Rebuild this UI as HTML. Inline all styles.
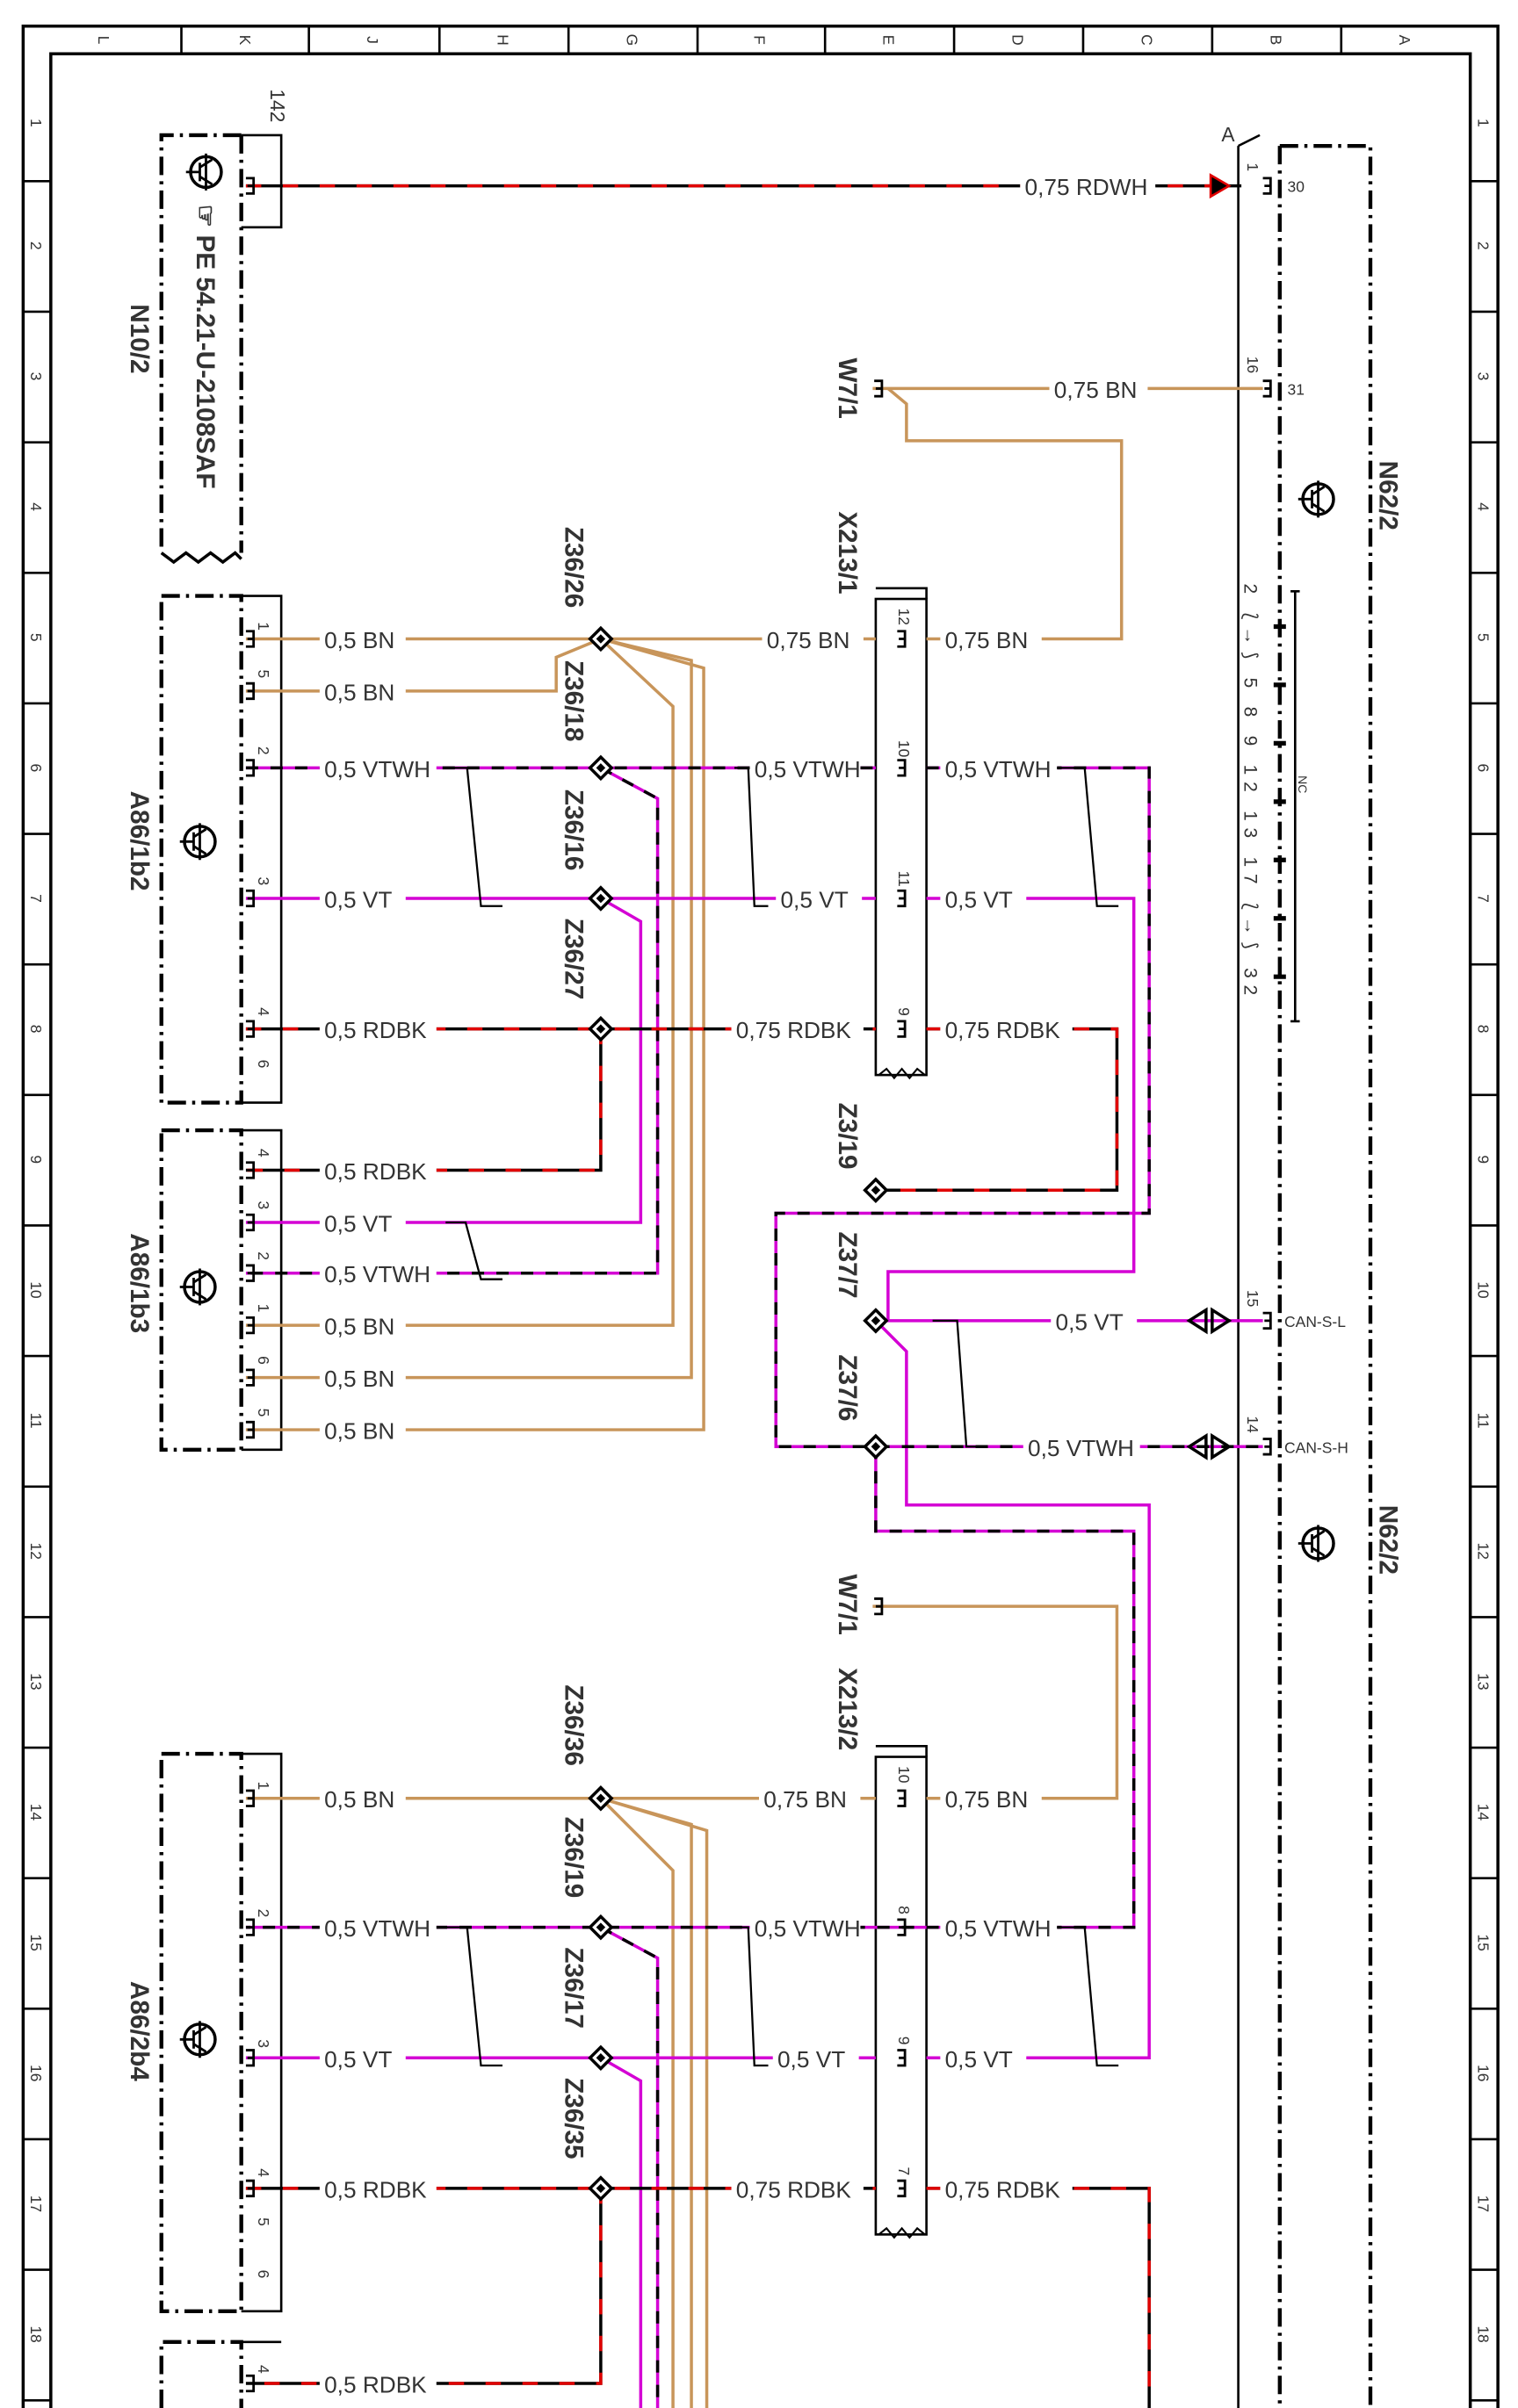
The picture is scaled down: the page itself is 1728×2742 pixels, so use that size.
<!DOCTYPE html>
<html><head><meta charset="utf-8"><style>
html,body{margin:0;padding:0;background:#fff}
svg{display:block}
text{font-family:"Liberation Sans",sans-serif;fill:#333}
.l{font-size:15px}
.b{font-size:17px;font-weight:bold;fill:#111}
.s{font-size:10px}
</style></head><body>
<svg width="1728" height="2742" viewBox="0 0 988 1568" xmlns="http://www.w3.org/2000/svg">
<defs>
<g id="pin"><path d="M-6,-5 h5 v10 h-5 M-1,0 h-4" fill="none" stroke="#000" stroke-width="1.6"/></g>
<g id="dia"><path d="M0,-7 L7,0 L0,7 L-7,0Z" fill="#fff" stroke="#000" stroke-width="2"/><path d="M0,-3 L3,0 L0,3 L-3,0Z" fill="#000"/></g>
<g id="trans"><circle r="10" fill="none" stroke="#000" stroke-width="2"/><path d="M-13,0 H-4 M-4,-6 V6 M-4,-3 L4,-8 M-4,3 L4,8 M0,-12 V12" fill="none" stroke="#000" stroke-width="1.6"/></g>
</defs>
<g fill="none" stroke="#000" stroke-width="2">
<path d="M15,1568 V17 H975 V1568"/>
<path d="M33,1568 V35 H957 V1568"/>
</g>
<g stroke="#000" stroke-width="1.5">
<line x1="118" y1="17" x2="118" y2="35"/><line x1="201" y1="17" x2="201" y2="35"/><line x1="286" y1="17" x2="286" y2="35"/><line x1="370" y1="17" x2="370" y2="35"/><line x1="454" y1="17" x2="454" y2="35"/><line x1="537" y1="17" x2="537" y2="35"/><line x1="621" y1="17" x2="621" y2="35"/><line x1="705" y1="17" x2="705" y2="35"/><line x1="789" y1="17" x2="789" y2="35"/><line x1="873" y1="17" x2="873" y2="35"/>
</g>
<g class="s" text-anchor="middle">
<text transform="translate(68,26) rotate(90)" dy="4">L</text><text transform="translate(160,26) rotate(90)" dy="4">K</text><text transform="translate(243,26) rotate(90)" dy="4">J</text><text transform="translate(328,26) rotate(90)" dy="4">H</text><text transform="translate(412,26) rotate(90)" dy="4">G</text><text transform="translate(495,26) rotate(90)" dy="4">F</text><text transform="translate(579,26) rotate(90)" dy="4">E</text><text transform="translate(663,26) rotate(90)" dy="4">D</text><text transform="translate(747,26) rotate(90)" dy="4">C</text><text transform="translate(831,26) rotate(90)" dy="4">B</text><text transform="translate(915,26) rotate(90)" dy="4">A</text>
</g>
<g stroke="#000" stroke-width="1.5">
<path d="M15,118 H33 M15,203 H33 M15,288 H33 M15,373 H33 M15,458 H33 M15,543 H33 M15,628 H33 M15,713 H33 M15,798 H33 M15,883 H33 M15,968 H33 M15,1053 H33 M15,1138 H33 M15,1223 H33 M15,1308 H33 M15,1393 H33 M15,1478 H33 M15,1563 H33"/>
<path d="M957,118 H975 M957,203 H975 M957,288 H975 M957,373 H975 M957,458 H975 M957,543 H975 M957,628 H975 M957,713 H975 M957,798 H975 M957,883 H975 M957,968 H975 M957,1053 H975 M957,1138 H975 M957,1223 H975 M957,1308 H975 M957,1393 H975 M957,1478 H975 M957,1563 H975"/>
</g>
<g class="s" text-anchor="middle">
<text transform="translate(24,80) rotate(90)" dy="4">1</text><text transform="translate(24,160) rotate(90)" dy="4">2</text><text transform="translate(24,245) rotate(90)" dy="4">3</text><text transform="translate(24,330) rotate(90)" dy="4">4</text><text transform="translate(24,415) rotate(90)" dy="4">5</text><text transform="translate(24,500) rotate(90)" dy="4">6</text><text transform="translate(24,585) rotate(90)" dy="4">7</text><text transform="translate(24,670) rotate(90)" dy="4">8</text><text transform="translate(24,755) rotate(90)" dy="4">9</text><text transform="translate(24,840) rotate(90)" dy="4">10</text><text transform="translate(24,925) rotate(90)" dy="4">11</text><text transform="translate(24,1010) rotate(90)" dy="4">12</text><text transform="translate(24,1095) rotate(90)" dy="4">13</text><text transform="translate(24,1180) rotate(90)" dy="4">14</text><text transform="translate(24,1265) rotate(90)" dy="4">15</text><text transform="translate(24,1350) rotate(90)" dy="4">16</text><text transform="translate(24,1435) rotate(90)" dy="4">17</text><text transform="translate(24,1520) rotate(90)" dy="4">18</text>
<text transform="translate(966,80) rotate(90)" dy="4">1</text><text transform="translate(966,160) rotate(90)" dy="4">2</text><text transform="translate(966,245) rotate(90)" dy="4">3</text><text transform="translate(966,330) rotate(90)" dy="4">4</text><text transform="translate(966,415) rotate(90)" dy="4">5</text><text transform="translate(966,500) rotate(90)" dy="4">6</text><text transform="translate(966,585) rotate(90)" dy="4">7</text><text transform="translate(966,670) rotate(90)" dy="4">8</text><text transform="translate(966,755) rotate(90)" dy="4">9</text><text transform="translate(966,840) rotate(90)" dy="4">10</text><text transform="translate(966,925) rotate(90)" dy="4">11</text><text transform="translate(966,1010) rotate(90)" dy="4">12</text><text transform="translate(966,1095) rotate(90)" dy="4">13</text><text transform="translate(966,1180) rotate(90)" dy="4">14</text><text transform="translate(966,1265) rotate(90)" dy="4">15</text><text transform="translate(966,1350) rotate(90)" dy="4">16</text><text transform="translate(966,1435) rotate(90)" dy="4">17</text><text transform="translate(966,1520) rotate(90)" dy="4">18</text>
</g>

<g fill="none" stroke="#000" stroke-width="2.5" stroke-dasharray="12,4,2,4">
<path d="M157,88 H105 V360 M157,88 V360"/>
<rect x="105" y="388" width="52" height="330"/>
<rect x="105" y="736" width="52" height="208"/>
<rect x="105" y="1142" width="52" height="363"/>
<path d="M105,1568 V1525 H157 V1568"/>
<path d="M833,95 H892 V1568 M833,95 V1568"/>
</g>
<path d="M105,360 l8,6 l8,-6 l8,6 l8,-6 l8,6 l8,-6 l4,4" fill="none" stroke="#000" stroke-width="2"/>
<g fill="none" stroke="#000" stroke-width="1.5">
<path d="M157,88 H183 V148 H157"/>
<path d="M157,388 H183 V718 H157"/>
<path d="M157,736 H183 V944 H157"/>
<path d="M157,1142 H183 V1505 H157"/>
<path d="M157,1525 H183"/>
<path d="M806,95 V1568"/>
<path d="M806,95 L820,88"/>
<rect x="570" y="390" width="33" height="310"/>
<path d="M570,383 H603 V390"/>
<rect x="570" y="1144" width="33" height="311"/>
<path d="M570,1137 H603 V1144"/>
<path d="M843,385 V665 M840,385 h6 M840,665 h6"/>
</g>
<g stroke="#000" stroke-width="3">
<path d="M829,408 h8 M829,446 h8 M829,484 h8 M829,522 h8 M829,560 h8 M829,598 h8 M829,636 h8"/>
</g>
<path d="M572,700 l5,-4 l5,6 l5,-6 l5,6 l5,-6 l5,4 M572,1455 l5,-4 l5,6 l5,-6 l5,6 l5,-6 l5,4" fill="none" stroke="#000" stroke-width="1.2"/>
<use href="#trans" x="134" y="112"/>
<use href="#trans" x="130" y="548"/>
<use href="#trans" x="130" y="838"/>
<use href="#trans" x="130" y="1328"/>
<use href="#trans" x="858" y="325"/>
<use href="#trans" x="858" y="1005"/>

<g fill="none" stroke="#c8955a" stroke-width="2">
<path d="M160,416 H570 M603,416 H730 V287 H590 V263 L578,253"/>
<path d="M568,253 H822"/>
<path d="M160,450 H362 V428 L391,416"/>
<path d="M391,416 L438,460 V863 H160"/>
<path d="M391,416 L450,430 V897 H160"/>
<path d="M391,416 L458,435 V931 H160"/>
<path d="M160,1171 H570 M603,1171 H727 V1046 H568"/>
<path d="M391,1171 L438,1218 V1568 M391,1171 L450,1188 V1568 M391,1171 L460,1192 V1568"/>
</g>
<g fill="none" stroke="#d400d4" stroke-width="2">
<path d="M160,585 H570 M603,585 H738 V828 H578 V860"/>
<path d="M391,585 L417,600 V796 H160"/>
<path d="M570,860 H822"/>
<path d="M570,860 L590,880 V980 H748 V1340 H603"/>
<path d="M160,1340 H570"/>
<path d="M391,1340 L417,1355 V1568"/>
</g>
<g fill="none" stroke-width="2">
<path d="M160,500 H570 M603,500 H748 V790 H505 V942 H822 M391,500 L428,520 V829 H160 M570,942 V997 H738 V1255 H160 M391,1255 L428,1275 V1568" stroke="#d400d4"/>
<path d="M160,500 H570 M603,500 H748 V790 H505 V942 H822 M391,500 L428,520 V829 H160 M570,942 V997 H738 V1255 H160 M391,1255 L428,1275 V1568" stroke="#000" stroke-dasharray="8,8"/>
</g>
<g fill="none" stroke-width="2">
<path d="M160,121 H808 M160,670 H570 M603,670 H727 V775 H570 M391,670 V762 H160 M160,1425 H570 M603,1425 H748 V1568 M391,1425 V1552 H160" stroke="#000"/>
<path d="M160,121 H808 M160,670 H570 M603,670 H727 V775 H570 M391,670 V762 H160 M160,1425 H570 M603,1425 H748 V1568 M391,1425 V1552 H160" stroke="#e00000" stroke-dasharray="10,14"/>
</g>
<g fill="#fff">
<rect x="664" y="112" width="88" height="18"/><rect x="683" y="244" width="64" height="18"/>
<rect x="208" y="407" width="56" height="18"/><rect x="496" y="407" width="66" height="18"/><rect x="612" y="407" width="66" height="18"/>
<rect x="208" y="441" width="56" height="18"/>
<rect x="208" y="491" width="76" height="18"/><rect x="488" y="491" width="72" height="18"/><rect x="612" y="491" width="76" height="18"/>
<rect x="208" y="576" width="56" height="18"/><rect x="505" y="576" width="56" height="18"/><rect x="612" y="576" width="56" height="18"/>
<rect x="208" y="661" width="76" height="18"/><rect x="476" y="661" width="86" height="18"/><rect x="612" y="661" width="86" height="18"/>
<rect x="208" y="753" width="76" height="18"/><rect x="208" y="787" width="56" height="18"/><rect x="208" y="820" width="76" height="18"/>
<rect x="208" y="854" width="56" height="18"/><rect x="208" y="888" width="56" height="18"/><rect x="208" y="922" width="56" height="18"/>
<rect x="684" y="851" width="56" height="18"/><rect x="666" y="933" width="76" height="18"/>
<rect x="208" y="1162" width="56" height="18"/><rect x="494" y="1162" width="66" height="18"/><rect x="612" y="1162" width="66" height="18"/>
<rect x="208" y="1246" width="76" height="18"/><rect x="488" y="1246" width="72" height="18"/><rect x="612" y="1246" width="76" height="18"/>
<rect x="208" y="1331" width="56" height="18"/><rect x="503" y="1331" width="56" height="18"/><rect x="612" y="1331" width="56" height="18"/>
<rect x="208" y="1416" width="76" height="18"/><rect x="476" y="1416" width="86" height="18"/><rect x="612" y="1416" width="86" height="18"/>
<rect x="208" y="1543" width="76" height="18"/>
</g>
<g fill="none" stroke="#000" stroke-width="1.3">
<path d="M290,500 H304 L313,590 H327"/><path d="M478,500 H487 L491,590 H500"/><path d="M688,500 H706 L714,590 H728"/>
<path d="M290,796 H303 L313,833 H327"/><path d="M607,860 H623 L629,942 H642"/>
<path d="M290,1255 H304 L313,1345 H327"/><path d="M478,1255 H487 L491,1345 H500"/><path d="M688,1255 H706 L714,1345 H728"/>
</g>
<path d="M788,114 L800,121 L788,128Z" fill="#000" stroke="#e00000" stroke-width="1.5"/>
<g fill="none" stroke="#000" stroke-width="2">
<path d="M774,860 L785,853 V867Z M800,860 L789,853 V867Z"/>
<path d="M774,942 L785,935 V949Z M800,942 L789,935 V949Z"/>
</g>
<g>
<use href="#pin" x="166" y="121"/>
<use href="#pin" x="166" y="416"/><use href="#pin" x="166" y="450"/><use href="#pin" x="166" y="500"/><use href="#pin" x="166" y="585"/><use href="#pin" x="166" y="670"/>
<use href="#pin" x="166" y="762"/><use href="#pin" x="166" y="796"/><use href="#pin" x="166" y="829"/><use href="#pin" x="166" y="863"/><use href="#pin" x="166" y="897"/><use href="#pin" x="166" y="931"/>
<use href="#pin" x="166" y="1171"/><use href="#pin" x="166" y="1255"/><use href="#pin" x="166" y="1340"/><use href="#pin" x="166" y="1425"/><use href="#pin" x="166" y="1552"/>
<use href="#pin" x="590" y="416"/><use href="#pin" x="590" y="500"/><use href="#pin" x="590" y="585"/><use href="#pin" x="590" y="670"/>
<use href="#pin" x="590" y="1171"/><use href="#pin" x="590" y="1255"/><use href="#pin" x="590" y="1340"/><use href="#pin" x="590" y="1425"/>
<use href="#pin" x="828" y="121"/><use href="#pin" x="828" y="253"/><use href="#pin" x="828" y="860"/><use href="#pin" x="828" y="942"/>
<use href="#pin" x="575" y="253"/><use href="#pin" x="575" y="1046"/>
</g>
<use href="#dia" x="391" y="416"/><use href="#dia" x="391" y="500"/><use href="#dia" x="391" y="585"/><use href="#dia" x="391" y="670"/>
<use href="#dia" x="570" y="775"/><use href="#dia" x="570" y="860"/><use href="#dia" x="570" y="942"/>
<use href="#dia" x="391" y="1171"/><use href="#dia" x="391" y="1255"/><use href="#dia" x="391" y="1340"/><use href="#dia" x="391" y="1425"/>
<g class="l">
<text x="667" y="127">0,75 RDWH</text><text x="686" y="259">0,75 BN</text>
<text x="211" y="422">0,5 BN</text><text x="499" y="422">0,75 BN</text><text x="615" y="422">0,75 BN</text>
<text x="211" y="456">0,5 BN</text>
<text x="211" y="506">0,5 VTWH</text><text x="491" y="506">0,5 VTWH</text><text x="615" y="506">0,5 VTWH</text>
<text x="211" y="591">0,5 VT</text><text x="508" y="591">0,5 VT</text><text x="615" y="591">0,5 VT</text>
<text x="211" y="676">0,5 RDBK</text><text x="479" y="676">0,75 RDBK</text><text x="615" y="676">0,75 RDBK</text>
<text x="211" y="768">0,5 RDBK</text><text x="211" y="802">0,5 VT</text><text x="211" y="835">0,5 VTWH</text>
<text x="211" y="869">0,5 BN</text><text x="211" y="903">0,5 BN</text><text x="211" y="937">0,5 BN</text>
<text x="687" y="866">0,5 VT</text><text x="669" y="948">0,5 VTWH</text>
<text x="211" y="1177">0,5 BN</text><text x="497" y="1177">0,75 BN</text><text x="615" y="1177">0,75 BN</text>
<text x="211" y="1261">0,5 VTWH</text><text x="491" y="1261">0,5 VTWH</text><text x="615" y="1261">0,5 VTWH</text>
<text x="211" y="1346">0,5 VT</text><text x="506" y="1346">0,5 VT</text><text x="615" y="1346">0,5 VT</text>
<text x="211" y="1431">0,5 RDBK</text><text x="479" y="1431">0,75 RDBK</text><text x="615" y="1431">0,75 RDBK</text>
<text x="211" y="1558">0,5 RDBK</text>
<text x="838" y="125" class="s">30</text><text x="838" y="257" class="s">31</text>
<text x="836" y="864" class="s">CAN-S-L</text><text x="836" y="946" class="s">CAN-S-H</text>
<text x="795" y="92" class="s" style="font-size:13px">A</text>
</g>
<g class="s">
<text transform="translate(176,58) rotate(90)" style="font-size:13px">142</text>
<text transform="translate(168,405) rotate(90)">1</text><text transform="translate(168,436) rotate(90)">5</text><text transform="translate(168,486) rotate(90)">2</text><text transform="translate(168,571) rotate(90)">3</text><text transform="translate(168,656) rotate(90)">4</text><text transform="translate(168,690) rotate(90)">6</text>
<text transform="translate(168,748) rotate(90)">4</text><text transform="translate(168,782) rotate(90)">3</text><text transform="translate(168,815) rotate(90)">2</text><text transform="translate(168,849) rotate(90)">1</text><text transform="translate(168,883) rotate(90)">6</text><text transform="translate(168,917) rotate(90)">5</text>
<text transform="translate(168,1160) rotate(90)">1</text><text transform="translate(168,1243) rotate(90)">2</text><text transform="translate(168,1328) rotate(90)">3</text><text transform="translate(168,1412) rotate(90)">4</text><text transform="translate(168,1444) rotate(90)">5</text><text transform="translate(168,1478) rotate(90)">6</text><text transform="translate(168,1540) rotate(90)">4</text>
<text transform="translate(585,396) rotate(90)">12</text><text transform="translate(585,482) rotate(90)">10</text><text transform="translate(585,567) rotate(90)">11</text><text transform="translate(585,656) rotate(90)">9</text>
<text transform="translate(585,1150) rotate(90)">10</text><text transform="translate(585,1241) rotate(90)">8</text><text transform="translate(585,1326) rotate(90)">9</text><text transform="translate(585,1411) rotate(90)">7</text>
<text transform="translate(812,106) rotate(90)">1</text><text transform="translate(812,232) rotate(90)">16</text><text transform="translate(812,840) rotate(90)">15</text><text transform="translate(812,922) rotate(90)">14</text>
<text transform="translate(810,380) rotate(90)" style="font-size:12px" textLength="268" lengthAdjust="spacing">2 ⟅→⟆ 5  8  9  12  13  17 ⟅→⟆ 32</text>
<text transform="translate(845,505) rotate(90)" style="font-size:8px">NC</text>
</g>
<g class="b">
<text transform="translate(85,198) rotate(90)">N10/2</text>
<text transform="translate(128,133) rotate(90)">☞ PE 54.21-U-2108SAF</text>
<text transform="translate(85,515) rotate(90)">A86/1b2</text>
<text transform="translate(85,803) rotate(90)">A86/1b3</text>
<text transform="translate(85,1290) rotate(90)">A86/2b4</text>
<text transform="translate(898,300) rotate(90)">N62/2</text>
<text transform="translate(898,980) rotate(90)">N62/2</text>
<text transform="translate(546,233) rotate(90)">W7/1</text>
<text transform="translate(546,333) rotate(90)">X213/1</text>
<text transform="translate(546,718) rotate(90)">Z3/19</text>
<text transform="translate(546,802) rotate(90)">Z37/7</text>
<text transform="translate(546,882) rotate(90)">Z37/6</text>
<text transform="translate(546,1025) rotate(90)">W7/1</text>
<text transform="translate(546,1086) rotate(90)">X213/2</text>
<text transform="translate(368,343) rotate(90)">Z36/26</text>
<text transform="translate(368,430) rotate(90)">Z36/18</text>
<text transform="translate(368,514) rotate(90)">Z36/16</text>
<text transform="translate(368,598) rotate(90)">Z36/27</text>
<text transform="translate(368,1097) rotate(90)">Z36/36</text>
<text transform="translate(368,1183) rotate(90)">Z36/19</text>
<text transform="translate(368,1268) rotate(90)">Z36/17</text>
<text transform="translate(368,1353) rotate(90)">Z36/35</text>
</g>
</svg>
</body></html>
